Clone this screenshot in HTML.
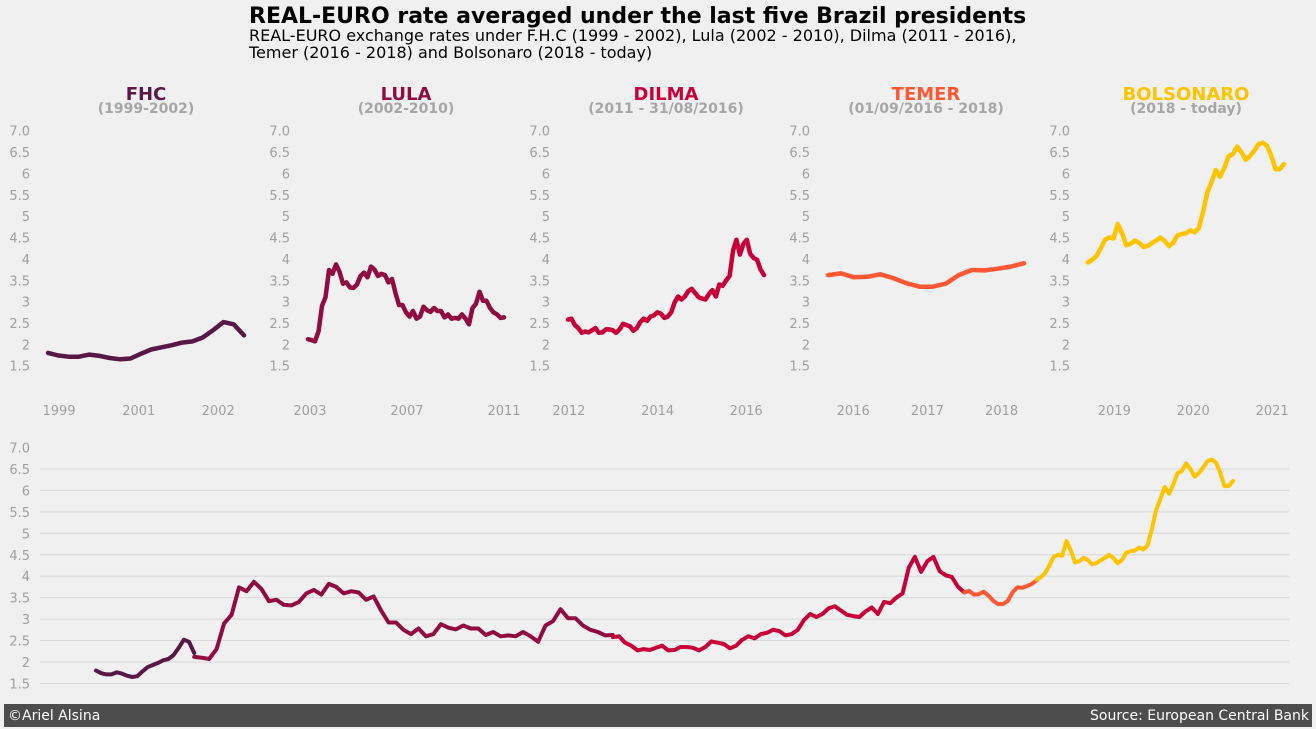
<!DOCTYPE html>
<html><head><meta charset="utf-8">
<style>
html,body{margin:0;padding:0;background:#f0f0f0;}
svg{display:block;font-family:"DejaVu Sans","Liberation Sans",sans-serif;}
</style></head>
<body>
<svg id="chart" width="1316" height="729" viewBox="0 0 1316 729">
<rect x="0" y="0" width="1316" height="729" fill="#f0f0f0"/>
<text x="249" y="23" font-size="22" font-weight="bold" fill="#000">REAL-EURO rate averaged under the last five Brazil presidents</text>
<text x="249" y="41" font-size="16" fill="#000">REAL-EURO exchange rates under F.H.C (1999 - 2002), Lula (2002 - 2010), Dilma (2011 - 2016),</text>
<text x="249" y="58" font-size="16" fill="#000">Temer (2016 - 2018) and Bolsonaro (2018 - today)</text>
<g id="topPanels"></g>
<g id="bottom"></g>
<rect x="4" y="704" width="1308" height="23" fill="#4d4d4d"/>
<text x="8" y="720" font-size="14" fill="#fff">©Ariel Alsina</text>
<text x="1309" y="720" font-size="14" fill="#fff" text-anchor="end">Source: European Central Bank</text>
</svg>
<script>
const names = ["FHC","LULA","DILMA","TEMER","BOLSONARO"];
const periods = ["(1999-2002)","(2002-2010)","(2011 - 31/08/2016)","(01/09/2016 - 2018)","(2018 - today)"];
const colors = ["#581845","#900C3F","#C70039","#FF5733","#FFC300"];
const fhc = [1.80,1.74,1.71,1.71,1.76,1.73,1.68,1.65,1.67,1.78,1.88,1.93,1.98,2.04,2.07,2.16,2.33,2.52,2.47,2.21];
const lula = [2.12,2.10,2.07,2.3,2.9,3.1,3.74,3.65,3.87,3.7,3.42,3.45,3.33,3.32,3.4,3.6,3.68,3.57,3.82,3.75,3.6,3.65,3.62,3.45,3.53,3.2,2.92,2.92,2.75,2.65,2.78,2.6,2.65,2.88,2.8,2.76,2.85,2.78,2.78,2.63,2.7,2.6,2.62,2.6,2.7,2.6,2.47,2.85,2.95,3.23,3.02,3.02,2.85,2.75,2.7,2.62,2.63];
const dilma = [2.58,2.6,2.45,2.38,2.27,2.3,2.28,2.33,2.38,2.27,2.28,2.35,2.35,2.33,2.27,2.35,2.48,2.45,2.42,2.32,2.38,2.52,2.6,2.55,2.65,2.68,2.75,2.72,2.62,2.65,2.75,2.98,3.12,3.05,3.12,3.25,3.3,3.2,3.1,3.07,3.05,3.18,3.27,3.12,3.4,3.37,3.5,3.6,4.2,4.45,4.1,4.35,4.45,4.12,4.02,3.98,3.75,3.62];
const temer = [3.62,3.66,3.57,3.58,3.64,3.55,3.43,3.35,3.35,3.42,3.62,3.74,3.73,3.77,3.82,3.9];
const bolsonaro = [3.92,3.98,4.07,4.25,4.45,4.5,4.48,4.82,4.6,4.32,4.35,4.43,4.38,4.28,4.3,4.37,4.43,4.5,4.42,4.3,4.38,4.55,4.58,4.6,4.67,4.62,4.72,5.1,5.55,5.8,6.08,5.92,6.13,6.4,6.45,6.63,6.5,6.32,6.4,6.53,6.68,6.72,6.65,6.42,6.1,6.1,6.22];
const series = [fhc, lula, dilma, temer, bolsonaro];
// observation-index bounds of each presidency on the shared timeline
const periodBounds = [0,19,100,168,182,220];
const xTickLabels = [["1999","2001","2002"],["2003","2007","2011"],["2012","2014","2016"],["2016","2017","2018"],["2019","2020","2021"]];
const xTickValues = [[1.07,8.8,16.5],[19.8,59.9,100],[100.3,131.1,161.8],[169.8,175.1,180.4],[187.1,202.4,217.7]];
const yTickValues = [7.0,6.5,6,5.5,5,4.5,4,3.5,3,2.5,2,1.5];
const yTickLabels = ["7.0","6.5","6","5.5","5","4.5","4","3.5","3","2.5","2","1.5"];

const NS = "http://www.w3.org/2000/svg";
function mk(tag, attrs, parent){const e=document.createElementNS(NS,tag);for(const k in attrs)e.setAttribute(k,attrs[k]);parent.appendChild(e);return e;}
function ptsX(i, s){const a=periodBounds[i],b=periodBounds[i+1];return s.map((_,j)=>a+(b-a)*j/(s.length-1));}

const topG = document.getElementById('topPanels');
const yTop = v => 130.7 + (7 - v) * 42.73;
for (let i = 0; i < 5; i++) {
  const x0 = 48 + 260 * i, x1 = x0 + 196;
  const a = periodBounds[i], b = periodBounds[i+1];
  const xs = t => x0 + (t - a) / (b - a) * (x1 - x0);
  const g = mk('g', {}, topG);
  
  
  const cx = (x0 + x1) / 2;
  const t1 = mk('text', {x: cx, y: 100, 'font-size': 18, 'font-weight': 'bold', fill: colors[i], 'text-anchor': 'middle'}, g);
  t1.textContent = names[i];
  
  
  const t2 = mk('text', {x: cx, y: 113, 'font-size': 14, 'font-weight': 'bold', fill: '#a6a6a6', 'text-anchor': 'middle'}, g);
  t2.textContent = periods[i];
  
  
  yTickValues.forEach((v, k) => {
    const t = mk('text', {x: 30 + 260 * i, y: yTop(v) + 5, 'font-size': 13, fill: '#a0a0a0', 'text-anchor': 'end'}, g);
    t.textContent = yTickLabels[k];
    
    
  });
  xTickValues[i].forEach((v, k) => {
    const t = mk('text', {x: xs(v), y: 415, 'font-size': 13, fill: '#a0a0a0', 'text-anchor': 'middle'}, g);
    t.textContent = xTickLabels[i][k];
    
    
  });
  const X = ptsX(i, series[i]);
  const d = series[i].map((v, j) => (j ? 'L' : 'M') + xs(X[j]).toFixed(1) + ' ' + yTop(v).toFixed(1)).join(' ');
  const p = mk('path', {d: d, fill: 'none', stroke: colors[i], 'stroke-width': 4.5, 'stroke-linejoin': 'round', 'stroke-linecap': 'round'}, g);
  
  
}

const bot = document.getElementById('bottom');
const yB = v => 447.5 + (7 - v) * 42.9;
const xB = t => 96 + (t - periodBounds[0]) / (periodBounds[5] - periodBounds[0]) * (1233 - 96);
yTickValues.forEach((v, k) => {
  if (v < 7) {
    const l = mk('line', {x1: 40, x2: 1289, y1: yB(v), y2: yB(v), stroke: '#d8d8d8', 'stroke-width': 1}, bot);
    
    
  }
  const t = mk('text', {x: 30, y: yB(v) + 5, 'font-size': 13, fill: '#a0a0a0', 'text-anchor': 'end'}, bot);
  t.textContent = yTickLabels[k];
  
  
});
for (let i = 0; i < 5; i++) {
  const X = ptsX(i, series[i]);
  const d = series[i].map((v, j) => (j ? 'L' : 'M') + xB(X[j]).toFixed(1) + ' ' + yB(v).toFixed(1)).join(' ');
  const p = mk('path', {d: d, fill: 'none', stroke: colors[i], 'stroke-width': 4, 'stroke-linejoin': 'round', 'stroke-linecap': 'round'}, bot);
  
  
}
</script>
</body></html>
